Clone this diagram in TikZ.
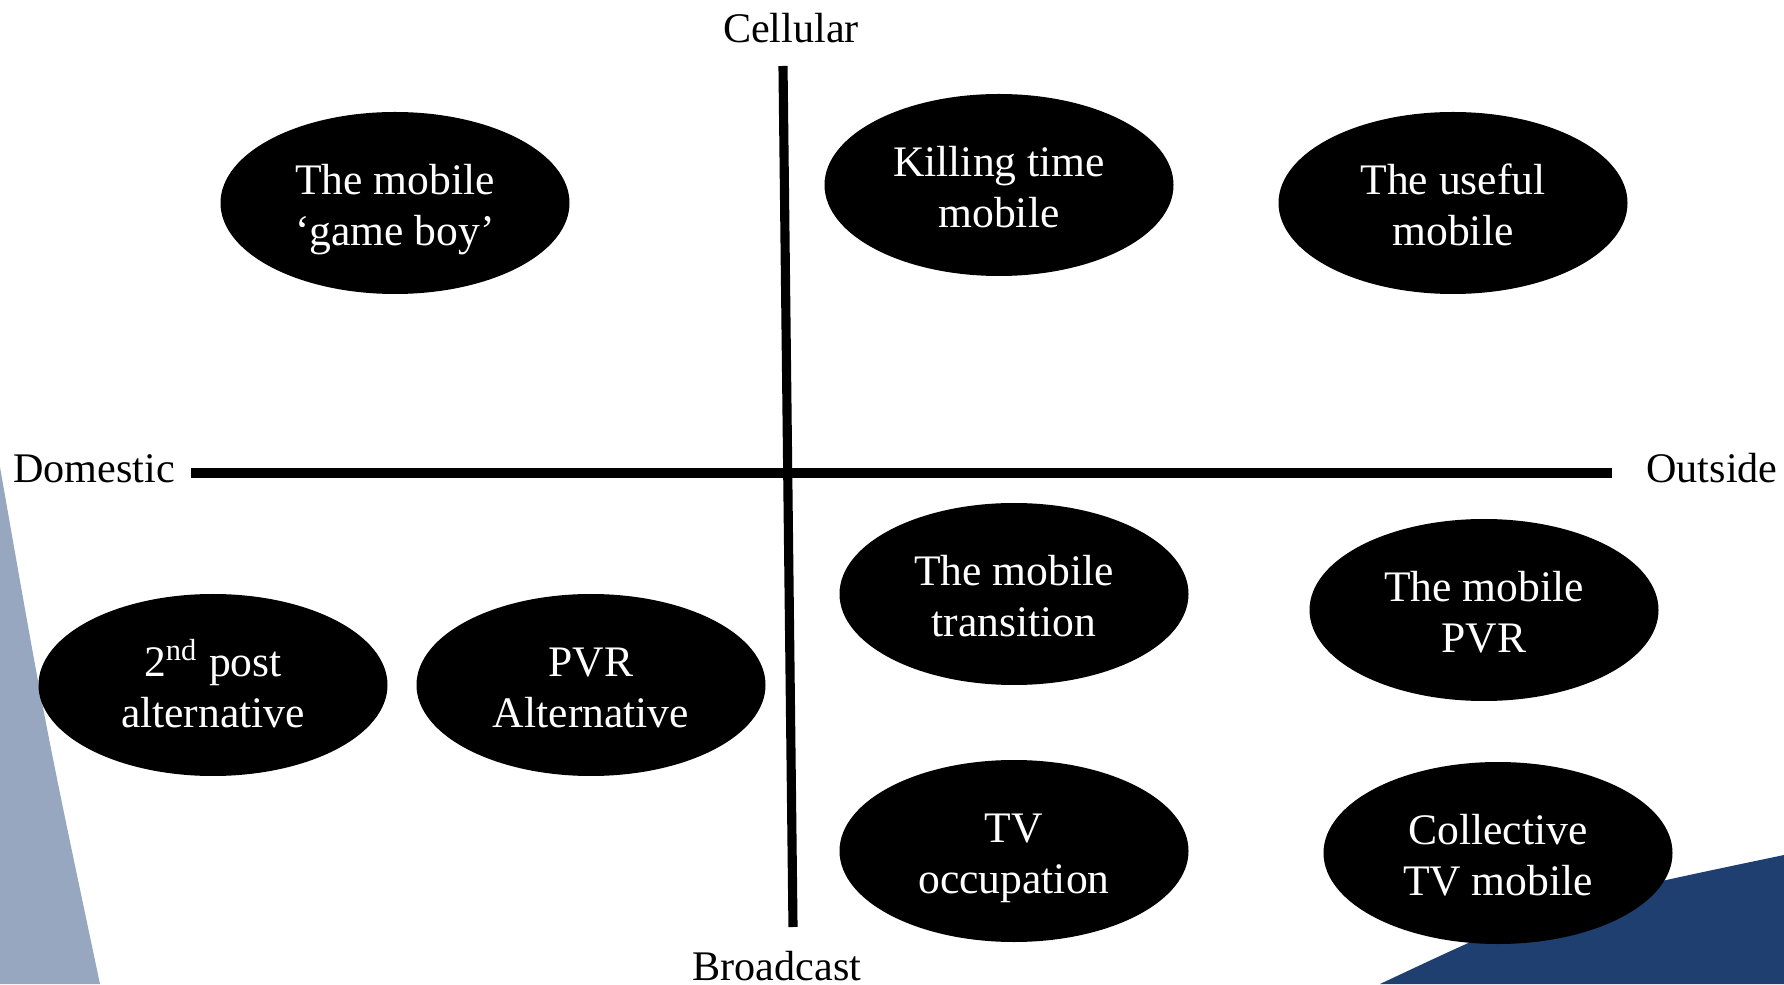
\documentclass[tikz,border=0pt]{standalone}
\usepackage{fontspec}
\setmainfont{Liberation Serif}
\usepackage{xcolor}
\usetikzlibrary{positioning, shapes.geometric}
\definecolor{wedgegray}{RGB}{150,167,191}
\definecolor{cornernavy}{RGB}{30,63,112}
\tikzset{
    bubble/.style={ellipse, fill=black, text=white, align=center, inner sep=0pt, minimum width=3.49cm, minimum height=1.82cm, font=\fontsize{12.4}{14.5}\selectfont, text height=24pt, text depth=0pt}, % sets the properties for each usage type
    pole/.style={font=\fontsize{12}{14}\selectfont, inner sep=0pt}, % text at the end of an axis
    node distance=3.78cm, % distance between neighbouring bubbles. Change if necessary.
}
\tikzstyle{axis} = [line width=2.6pt]

\begin{document}
\begin{tikzpicture}
                \useasboundingbox (0,0) rectangle (17.84,9.84);
                \fill[wedgegray] (0,5.17) .. controls (0.45,2.6) .. (1.0,0) -- (0,0) -- cycle;
                \fill[cornernavy] (17.84,1.29) .. controls (15.5,0.8) .. (13.8,0) -- (17.84,0) -- cycle;

                \node[pole, anchor=base] (cell) at (7.91,9.41) {Cellular};
                \node[pole, anchor=base] (broad) at (7.77,0.04) {Broadcast};
                \node[pole, anchor=base] (dom) at (0.94,5.01) {Domestic};
                \node[pole, anchor=base] (out) at (17.12,5.01) {Outside};

                \coordinate (ytop) at (7.83,9.18);
                \coordinate (ybot) at (7.93,0.57);
                \coordinate (xleft) at (1.91,5.11);
                \coordinate (xright) at (16.12,5.11);
                \draw[axis] (ytop) -- (ybot);
                \draw[axis] (xleft) -- (xright);

                \node[bubble] (gameboy) at (3.95,7.81) {The mobile\\‘game boy’};
                \node[bubble] (killing) at (9.99,7.99) {Killing time\\mobile};
                \node[bubble] (useful) at (14.53,7.81) {The useful\\mobile};
                \node[bubble] (transition) at (10.14,3.90) {The mobile\\transition};
                \node[bubble] (mobpvr) at (14.84,3.74) {The mobile\\PVR};
                \node[bubble] (second) at (2.13,2.99) {2\textsuperscript{nd} post\\alternative};
                \node[bubble, right of=second] (pvralt) {PVR\\Alternative};
                \node[bubble, below of=transition, node distance=2.57cm] (tvocc) {TV\\occupation};
                \node[bubble] (collective) at (14.98,1.31) {Collective\\TV mobile};
            \end{tikzpicture}
\end{document}
